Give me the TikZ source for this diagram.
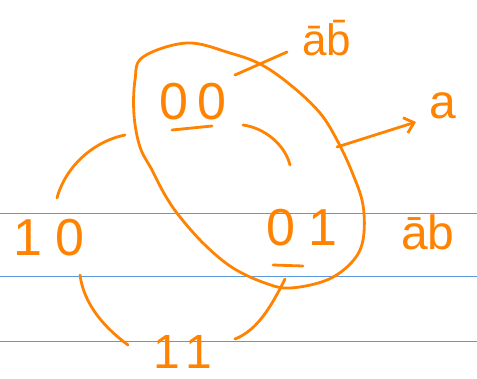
\documentclass[tikz,border=0pt]{standalone}
\usepackage{fontspec}
\setmainfont{Liberation Sans}
\usetikzlibrary{arrows.meta}
\definecolor{pen}{HTML}{FF8300}
\definecolor{rule}{HTML}{5A9AE0}

\begin{document}
\begin{tikzpicture}[x=1pt, y=-1pt,
    ink/.style={draw=pen, line width=2.8pt, line cap=round, line join=round},
    digits/.style={text=pen, font=\fontsize{52}{52}\selectfont, inner sep=0pt},
    tag/.style={text=pen, font=\fontsize{44}{44}\selectfont, inner sep=0pt}]
    \useasboundingbox (0,0) rectangle (477,378);
    % ruled paper
    \foreach \y in {213,276,341} \draw[rule, line width=1pt] (0,\y) -- (477,\y);
    % the four codes and the labels
    \node[digits] (c00) at (193,102) {0\hspace{10pt}0};
    \node[digits] (c10) at (49,238) {1\hspace{13pt}0};
    \node[digits] (c01) at (302,228) {0\hspace{13pt}1};
    \node[digits, font=\fontsize{48}{48}\selectfont] (c11) at (183,352) {1\hspace{6pt}1};
    \node[tag] (tab) at (327,38) {\=a\=b};
    \node[tag, font=\fontsize{48}{48}\selectfont] (ta) at (443,106) {a};
    \node[tag, font=\fontsize{48}{48}\selectfont] (tab1) at (428,232) {\=ab};
    \draw[ink] (172,130) -- (212,126);
    \draw[ink] (273,265) -- (303,266);
    % loop round 00 and 01
    \draw[ink] plot[smooth cycle, tension=0.6] coordinates {
      (143,57) (187,43) (230,53) (262,65) (293,87) (320,113) (337,140)
      (352,172) (363,205) (363,240) (352,262) (327,280) (290,288)
      (265,283) (233,268) (205,245) (180,217) (165,195) (152,170)
      (140,147) (134,115) (135,80)};
    \coordinate (pin) at (235,75);
    \coordinate (pout) at (287,52);
    \draw[ink] (pin) -- (pout);
    \coordinate (ain) at (337,147);
    \coordinate (aout) at (416,122);
    \draw[ink, -{Straight Barb[length=9pt, width=16pt]}] (ain) -- (aout);
    % neighbour arcs
    \coordinate (s1) at (125,135); \coordinate (e1) at (57,198);
    \draw[ink] (s1) .. controls (95,141) and (66,165) .. (e1);
    \coordinate (s2) at (243,125); \coordinate (e2) at (290,165);
    \draw[ink] (s2) .. controls (265,128) and (285,145) .. (e2);
    \coordinate (s3) at (80,275); \coordinate (e3) at (128,345);
    \draw[ink] (s3) .. controls (84,305) and (105,328) .. (e3);
    \coordinate (s4) at (285,279); \coordinate (e4) at (235,339);
    \draw[ink] (s4) .. controls (272,305) and (258,330) .. (e4);
\end{tikzpicture}
\end{document}
